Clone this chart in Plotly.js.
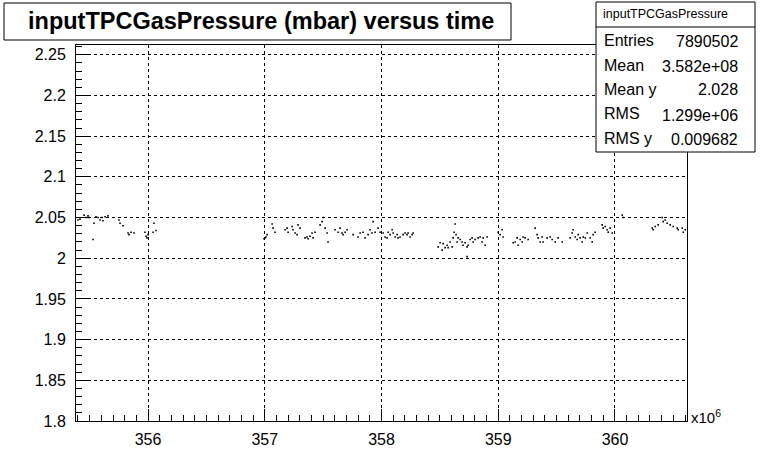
<!DOCTYPE html>
<html>
<head>
<meta charset="utf-8">
<script src="https://cdn.plot.ly/plotly-3.0.1.min.js"></script>
<style>html,body{margin:0;padding:0;background:#fff;}#chart{width:763px;height:469px;}</style>
</head>
<body>
<div id="chart"></div>
<script>
// time in units of 10^6 s
const timeE6 = [
 355.400,355.417,355.452,355.469,355.486,355.494,355.529,355.537,355.554,355.572,355.589,355.606,355.614,355.632,355.657,
 355.751,355.760,355.786,355.829,355.837,355.854,355.880,355.974,355.983,355.991,356.000,356.043,356.051,356.068,
 356.994,357.003,357.011,357.020,357.063,357.071,357.088,357.174,357.191,357.200,357.234,357.242,357.260,357.277,357.285,357.302,
 357.345,357.362,357.371,357.388,357.405,357.414,357.431,357.474,357.491,357.500,357.517,357.534,357.542,357.602,357.628,357.645,
 357.662,357.671,357.688,357.705,357.757,357.799,357.817,357.842,357.859,357.885,357.902,357.919,357.928,357.945,357.971,357.988,
 358.014,358.031,358.048,358.057,358.074,358.091,358.100,358.117,358.134,358.142,358.159,358.185,358.202,358.219,358.228,358.245,
 358.262,358.271,
 358.485,358.502,358.519,358.528,358.545,358.562,358.571,358.588,358.605,358.614,358.622,358.631,358.639,358.648,358.656,358.674,
 358.691,358.699,358.716,358.733,358.742,358.759,358.776,358.785,358.802,358.828,358.845,358.862,358.871,358.888,358.905,358.733,
 358.999,359.016,359.033,359.042,359.128,359.145,359.162,359.170,359.188,359.205,359.213,359.230,359.256,359.316,359.333,359.342,
 359.359,359.376,359.385,359.419,359.445,359.462,359.488,359.513,359.548,359.616,359.633,359.642,359.659,359.676,359.685,359.702,
 359.719,359.728,359.745,359.762,359.788,359.805,359.813,359.830,359.890,359.899,359.916,359.933,359.942,359.959,359.976,
 360.062,360.070,
 360.319,360.327,360.345,360.370,360.405,360.413,360.430,360.447,360.473,360.499,360.533,360.542,360.576,360.585,360.602
];
// inputTPCGasPressure (mbar)
const pressure = [
 2.047,2.048,2.053,2.050,2.052,2.050,2.023,2.043,2.051,2.050,2.047,2.050,2.046,2.051,2.052,
 2.047,2.043,2.040,2.031,2.029,2.032,2.031,2.032,2.027,2.025,2.029,2.032,2.043,2.034,
 2.024,2.025,2.026,2.029,2.042,2.037,2.032,2.035,2.037,2.032,2.039,2.035,2.031,2.029,2.041,2.037,
 2.025,2.026,2.024,2.027,2.031,2.025,2.032,2.041,2.045,2.050,2.037,2.031,2.020,2.035,2.032,2.037,
 2.031,2.029,2.032,2.035,2.029,2.026,2.031,2.032,2.025,2.029,2.035,2.031,2.045,2.032,2.037,2.032,
 2.031,2.026,2.025,2.032,2.029,2.035,2.031,2.026,2.029,2.025,2.026,2.029,2.031,2.029,2.031,2.026,
 2.029,2.031,
 2.014,2.019,2.010,2.018,2.013,2.016,2.013,2.020,2.014,2.025,2.032,2.042,2.029,2.020,2.025,2.023,
 2.020,2.016,2.019,2.014,2.016,2.023,2.025,2.020,2.023,2.025,2.026,2.020,2.025,2.016,2.026,2.002,
 2.032,2.029,2.035,2.026,2.019,2.020,2.025,2.016,2.023,2.020,2.026,2.025,2.023,2.037,2.029,2.025,
 2.020,2.026,2.020,2.025,2.026,2.023,2.020,2.025,2.020,2.025,2.031,2.035,2.026,2.023,2.029,2.025,
 2.020,2.026,2.025,2.031,2.025,2.020,2.029,2.032,2.041,2.037,2.039,2.035,2.032,2.037,2.031,
 2.053,2.050,
 2.037,2.035,2.039,2.041,2.050,2.045,2.047,2.043,2.041,2.039,2.037,2.035,2.037,2.032,2.035
];
const yTicks = [1.8,1.85,1.9,1.95,2,2.05,2.1,2.15,2.2,2.25];
const yTickText = ["1.8","1.85","1.9","1.95","2","2.05","2.1","2.15","2.2","2.25"];
const xTicks = [356,357,358,359,360];
const xTickText = ["356","357","358","359","360"];
const statLabels = ["Entries","Mean","Mean y","RMS","RMS y"];
const statValues = ["7890502","3.582e+08","2.028","1.299e+06","0.009682"];
const titleText = "inputTPCGasPressure (mbar) versus time";
const statsTitle = "inputTPCGasPressure";

// plot area in pixels
const L = 76, R = 687, T = 45, B = 421, W = 763, H = 469;
const px = x => (x - L) / (R - L);
const py = y => (B - y) / (B - T);

const FONT = "Liberation Sans, Arial, sans-serif";

const trace = {
  type: "scatter", mode: "markers",
  x: timeE6, y: pressure,
  marker: {symbol: "square", size: 1.6, color: "#000", line: {width: 0}},
  hoverinfo: "x+y", showlegend: false
};

const shapes = [
  {type:"rect", xref:"paper", yref:"paper", x0:px(4), x1:px(511), y0:py(3), y1:py(40), line:{color:"#000", width:1}, fillcolor:"#fff", layer:"above"},
  {type:"rect", xref:"paper", yref:"paper", x0:px(596), x1:px(755), y0:py(2), y1:py(152), line:{color:"#000", width:1}, fillcolor:"#fff", layer:"above"},
  {type:"line", xref:"paper", yref:"paper", x0:px(596), x1:px(755), y0:py(27), y1:py(27), line:{color:"#000", width:1}, layer:"above"}
];

const annotations = [
  {xref:"paper", yref:"paper", x:px(26), y:py(21), xanchor:"left", yanchor:"middle", showarrow:false,
   text:"<b>"+titleText+"</b>", font:{family:FONT, size:23.5, color:"#000"}},
  {xref:"paper", yref:"paper", x:px(665), y:py(14), xanchor:"center", yanchor:"middle", showarrow:false,
   text:statsTitle, font:{family:FONT, size:12.5, color:"#000"}},
  {xref:"paper", yref:"paper", x:px(689), y:py(416), xanchor:"left", yanchor:"middle", showarrow:false,
   text:"x10<sup>6</sup>", font:{family:FONT, size:15, color:"#000"}}
];
const rowY = [41, 65, 89, 114, 138];
statLabels.forEach((lab, i) => {
  annotations.push({xref:"paper", yref:"paper", x:px(602), y:py(rowY[i]), xanchor:"left", yanchor:"middle", showarrow:false,
    text:lab, font:{family:FONT, size:16, color:"#000"}});
  annotations.push({xref:"paper", yref:"paper", x:px(740), y:py(rowY[i]+1), xanchor:"right", yanchor:"middle", showarrow:false,
    text:statValues[i], font:{family:FONT, size:16, color:"#000"}});
});

const layout = {
  width: W, height: H,
  margin: {l: L, r: W - R, t: T, b: H - B, pad: 0},
  paper_bgcolor: "#fff", plot_bgcolor: "#fff",
  showlegend: false,
  font: {family: FONT, size: 16, color: "#000"},
  xaxis: {
    range: [355.383, 360.617],
    tickmode: "array", tickvals: xTicks, ticktext: xTickText,
    ticks: "inside", ticklen: 12, tickcolor: "#000", tickwidth: 1,
    minor: {dtick: 0.1, tick0: 356, ticks: "inside", ticklen: 6, tickcolor: "#000", showgrid: false},
    showgrid: true, gridcolor: "#000", gridwidth: 1, griddash: "3px,3px",
    showline: true, linecolor: "#000", linewidth: 1, mirror: true,
    zeroline: false, tickfont: {family: FONT, size: 16, color: "#000"}, ticklabelstandoff: 4
  },
  yaxis: {
    range: [1.8, 2.262],
    tickmode: "array", tickvals: yTicks, ticktext: yTickText,
    ticks: "inside", ticklen: 12, tickcolor: "#000", tickwidth: 1,
    minor: {dtick: 0.01, tick0: 1.8, ticks: "inside", ticklen: 6, tickcolor: "#000", showgrid: false},
    showgrid: true, gridcolor: "#000", gridwidth: 1, griddash: "3px,3px",
    showline: true, linecolor: "#000", linewidth: 1, mirror: true,
    zeroline: false, tickfont: {family: FONT, size: 16, color: "#000"}, ticklabelstandoff: 6
  },
  shapes: shapes,
  annotations: annotations
};

Plotly.newPlot("chart", [trace], layout, {staticPlot: true, displayModeBar: false});
</script>
</body>
</html>
